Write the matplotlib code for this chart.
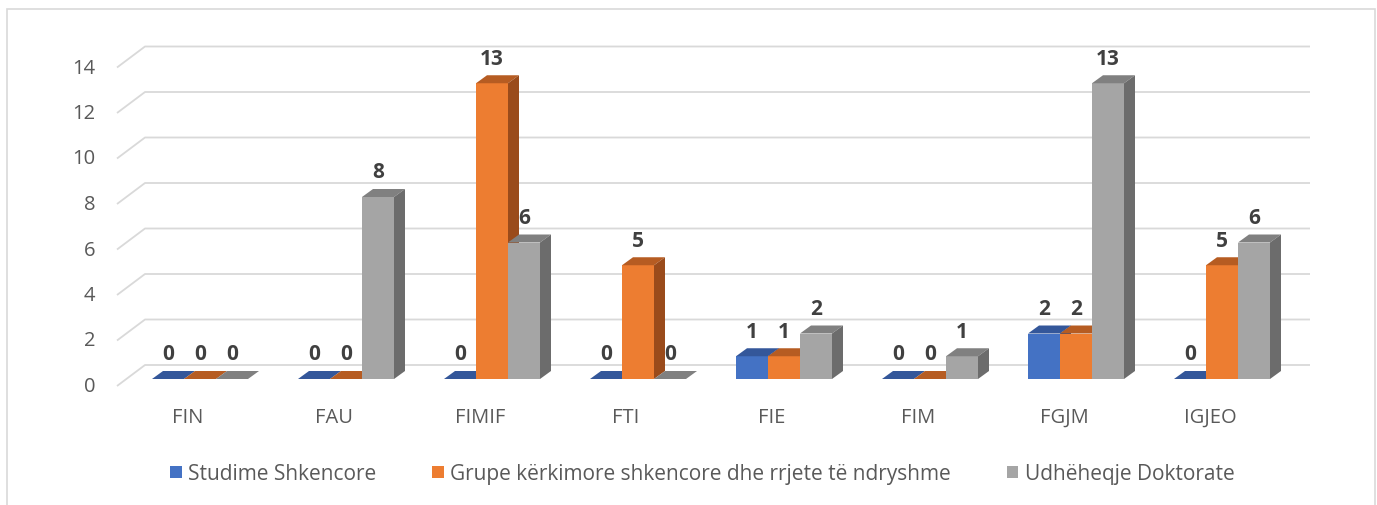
import matplotlib.pyplot as plt
from matplotlib.patches import Polygon, Rectangle, Patch

# data
categories = ["FIN", "FAU", "FIMIF", "FTI", "FIE", "FIM", "FGJM", "IGJEO"]
series_names = ["Studime Shkencore",
                "Grupe kërkimore shkencore dhe rrjete të ndryshme",
                "Udhëheqje Doktorate"]
studime = [0, 0, 0, 0, 1, 0, 2, 0]
grupe = [0, 0, 13, 5, 1, 0, 2, 5]
udheheqje = [0, 8, 6, 0, 2, 1, 13, 6]
y_ticks = [0, 2, 4, 6, 8, 10, 12, 14]

# face colours: front, top, side
colors = [("#4472C4", "#34579A", "#2B4A85"),
          ("#ED7D31", "#B65C22", "#9A4B1B"),
          ("#A5A5A5", "#808080", "#6C6C6C")]

plt.rcParams['font.family'] = ['Open Sans', 'DejaVu Sans']

W, H = 1377, 506
fig = plt.figure(figsize=(W / 100, H / 100), dpi=100)

# pixel geometry of the pseudo 3d box
px_x, px_y = 146.0, 22.75           # pixels per category / per unit
x0_px, base_px = 200.0, 380.0       # first group centre, bar baseline
left_px, right_px, top_px, bot_px = 100, 1330, 30, 440
ax = fig.add_axes([left_px / W, 1 - bot_px / H, (right_px - left_px) / W, (bot_px - top_px) / H])
ax.set_xlim((left_px - x0_px) / px_x, (right_px - x0_px) / px_x)
ax.set_ylim((base_px - bot_px) / px_y, (base_px - top_px) / px_y)
ax.axis('off')

bw = 32 / px_x          # bar width
dx, dy = 11 / px_x, 8 / px_y   # bar depth
front_x = (117 - x0_px) / px_x
back_x0 = (145 - x0_px) / px_x
back_x1 = (1310 - x0_px) / px_x
front_off = -7 / px_y
back_off = 14 / px_y

grid_c = "#D9D9D9"
for v in y_ticks:
    ax.plot([front_x, back_x0, back_x1], [v + front_off, v + back_off, v + back_off],
            color=grid_c, lw=1.3, zorder=1, solid_capstyle='butt')
    ax.text(front_x - 0.15, v + front_off, str(v), ha='right', va='center',
            fontsize=14.5, color="#595959", clip_on=False)

series = [studime, grupe, udheheqje]
for i, cat in enumerate(categories):
    for j, vals in enumerate(series):
        v = vals[i]
        xl = i + (j - 1.5) * bw
        xr = xl + bw
        fc, tc, sc = colors[j]
        z = 2 + i * 3 + j
        ax.add_patch(Rectangle((xl, 0), bw, v, facecolor=fc, edgecolor='none', zorder=z))
        ax.add_patch(Polygon([(xl, v), (xr, v), (xr + dx, v + dy), (xl + dx, v + dy)],
                             closed=True, facecolor=tc, edgecolor='none', zorder=z))
        if v > 0:
            ax.add_patch(Polygon([(xr, 0), (xr + dx, dy), (xr + dx, v + dy), (xr, v)],
                                 closed=True, facecolor=sc, edgecolor='none', zorder=z))
        ax.annotate(str(v), xy=(xl + bw / 2, v), xytext=(0, 18), textcoords='offset points',
                    ha='center', va='center', fontsize=15, fontweight='bold',
                    color="#404040", zorder=50)
    ax.text(i - 12 / px_x, (base_px - 418) / px_y, cat, ha='center', va='center',
            fontsize=14.5, color="#595959", clip_on=False)

handles = [Patch(facecolor=c[0], edgecolor='none') for c in colors]
fig.legend(handles, series_names, ncol=3, loc='center', bbox_to_anchor=(0.510, 1 - 475 / H),
           frameon=False, fontsize=15, handlelength=0.55, handleheight=0.55,
           handletextpad=0.3, columnspacing=2.7, labelcolor="#595959")

fig.add_artist(Rectangle((7 / W, -0.01), (W - 9) / W, 1 - 10 / H + 0.01, transform=fig.transFigure,
                         fill=False, edgecolor="#D9D9D9", lw=1.2))

fig.savefig("out.png", dpi=100)
